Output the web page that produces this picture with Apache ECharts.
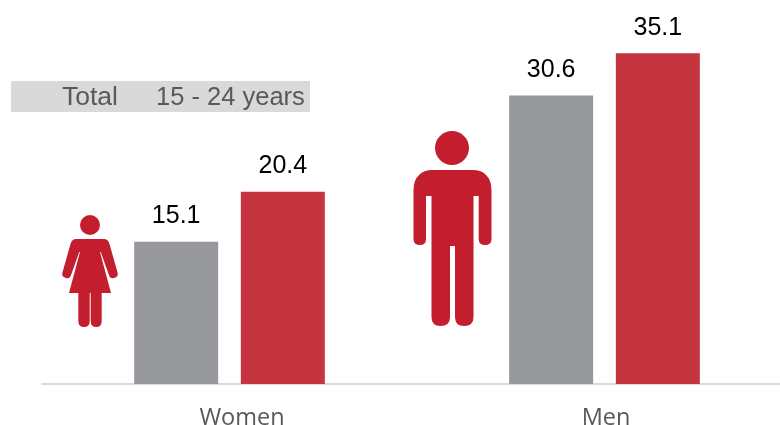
<!DOCTYPE html>
<html>
<head>
<meta charset="utf-8">
<style>html,body{margin:0;padding:0;background:#fff}#c{width:780px;height:425px}</style>
<script src="https://cdn.jsdelivr.net/npm/echarts@6/dist/echarts.min.js"></script>
</head>
<body>
<div id="c"></div>
<script>
const categories = ['Women', 'Men'];
const totalValues = [15.1, 30.6];
const youthValues = [20.4, 35.1];
const bandLabelLeft = 'Total';
const bandLabelRight = '15 - 24 years';

const womanPath = 'M76 239 L104 239 Q108 239 109.5 244 L117.7 273 Q118.5 277 114 278 Q110.5 279 109.3 276 L100.7 252 L100 252 L111 293 L101.7 293 L101.7 321 Q101.7 327 96.2 327 Q90.7 327 90.7 321 L90.7 293 L89.7 293 L89.7 321 Q89.7 327 84 327 Q78.3 327 78.3 321 L78.3 293 L69 293 L80 252 L79.3 252 L70.7 276 Q69.5 279 66 278 Q61.5 277 62.3 273 L70.5 244 Q72 239 76 239 Z';
const manPath = 'M432 170 L472 170 Q482 170 486 175 Q491.5 180 491.5 190 L491.5 239 Q491.5 245 485 245 Q478.7 245 478.7 239 L478.7 196 L473.5 196 L473.5 317 Q473.5 326 464 326 Q455 326 455 317 L455 246 L450 246 L450 317 Q450 326 440.5 326 Q431.5 326 431.5 317 L431.5 196 L426 196 L426 239 Q426 245 420 245 Q413.5 245 413.5 239 L413.5 190 Q413.5 180 419 175 Q424 170 432 170 Z';

echarts.graphic.registerShape('womanIcon', echarts.graphic.extendPath(womanPath, {}));
echarts.graphic.registerShape('manIcon', echarts.graphic.extendPath(manPath, {}));

const labelStyle = {show: true, position: 'top', distance: 13, color: '#000', fontFamily: 'Liberation Sans', fontSize: 25};
const axisText = {color: '#595959', fontFamily: 'Open Sans', fontSize: 23.5};
const chart = echarts.init(document.getElementById('c'), null, {renderer: 'canvas'});
chart.setOption({
  animation: false,
  backgroundColor: '#fff',
  grid: {left: 42, top: 7, width: 750, height: 377, outerBoundsMode: 'none'},
  xAxis: {
    type: 'category', data: categories,
    axisTick: {show: false},
    axisLine: {lineStyle: {color: '#D9D9D9', width: 2}},
    axisLabel: {
      margin: 22,
      formatter: function (value) { return '{' + value + '|' + value + '}'; },
      rich: {
        Women: Object.assign({padding: [0, 0, 0, 25]}, axisText),
        Men: Object.assign({padding: [0, 0, 0, 3]}, axisText)
      }
    }
  },
  yAxis: {type: 'value', min: 0, max: 40, show: false, splitLine: {show: false}},
  series: [
    {type: 'bar', data: totalValues, barWidth: 84, barGap: '27%', itemStyle: {color: '#97989B'}, label: labelStyle},
    {type: 'bar', data: youthValues, barWidth: 84, itemStyle: {color: '#C5353F'}, label: labelStyle}
  ],
  graphic: [
    {type: 'rect', shape: {x: 11, y: 81, width: 299, height: 31}, style: {fill: '#D9D9D9'}},
    {type: 'text', x: 62, y: 98, style: {text: bandLabelLeft, fill: '#595959', font: '26.5px "Liberation Sans"', verticalAlign: 'middle'}},
    {type: 'text', x: 156, y: 98, style: {text: bandLabelRight, fill: '#595959', font: '25.5px "Liberation Sans"', verticalAlign: 'middle'}},
    {type: 'circle', shape: {cx: 90, cy: 225, r: 10}, style: {fill: '#C21E2E'}},
    {type: 'womanIcon', style: {fill: '#C21E2E'}},
    {type: 'circle', shape: {cx: 452, cy: 148, r: 17}, style: {fill: '#C21E2E'}},
    {type: 'manIcon', style: {fill: '#C21E2E'}}
  ]
});
</script>
</body>
</html>
